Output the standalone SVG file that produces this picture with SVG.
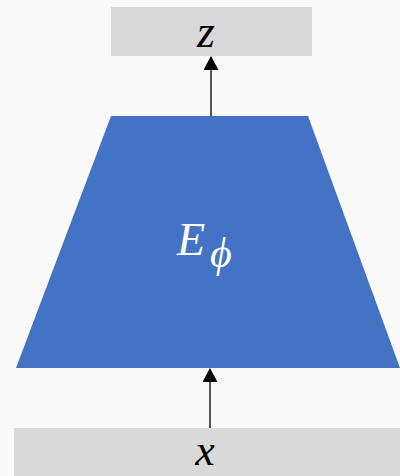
<svg xmlns="http://www.w3.org/2000/svg" width="400" height="476" viewBox="0 0 400 476">
<defs>
<style>
.box{fill:#d9d9d9}
.math{font-family:"Liberation Serif","DejaVu Serif",serif;font-style:italic;fill:#000}
.conn{stroke:#000;stroke-width:1.3;fill:none}
</style>
<marker id="ah" markerWidth="15" markerHeight="15" refX="13" refY="7.5" orient="auto" markerUnits="userSpaceOnUse" viewBox="0 0 15 15">
<path d="M0,0 L14,7.5 L0,15 z" fill="#000"/>
</marker>
</defs>
<rect width="400" height="476" fill="#fafafa"/>
<g id="connectors">
<line class="conn" x1="211" y1="116" x2="211" y2="57" marker-end="url(#ah)"/>
<line class="conn" x1="210" y1="428" x2="210" y2="369" marker-end="url(#ah)"/>
</g>
<g id="node-z">
<rect class="box" x="111" y="7" width="201" height="49"/>
<text class="math" x="206" y="47" font-size="46" text-anchor="middle">z</text>
</g>
<g id="node-encoder">
<polygon points="111,116 308,116 400,368 16,368" fill="#4472c4"/>
<text class="math" x="177" y="255" font-size="46" style="fill:#fff">E<tspan font-size="42" dx="5" dy="12">ϕ</tspan></text>
</g>
<g id="node-x">
<rect class="box" x="14" y="428" width="386" height="48"/>
<text class="math" x="205" y="465" font-size="44" text-anchor="middle">x</text>
</g>
</svg>
